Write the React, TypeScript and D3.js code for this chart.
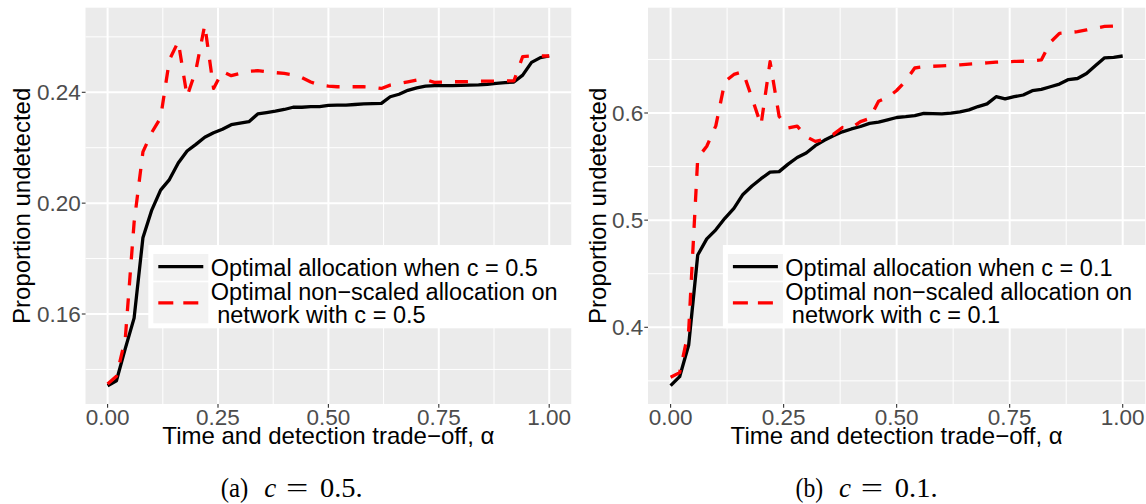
import React from "react";
import * as d3 from "d3";

// ---------- data ----------
const ALPHA = [
  0, 0.02, 0.04, 0.06, 0.08, 0.1, 0.12, 0.14, 0.16, 0.18, 0.2, 0.22, 0.24, 0.26, 0.28, 0.3, 0.32,
  0.34, 0.36, 0.38, 0.4, 0.42, 0.44, 0.46, 0.48, 0.5, 0.52, 0.54, 0.56, 0.58, 0.6, 0.62, 0.64, 0.66,
  0.68, 0.7, 0.72, 0.74, 0.76, 0.78, 0.8, 0.82, 0.84, 0.86, 0.88, 0.9, 0.92, 0.94, 0.96, 0.98, 1.0,
];

// panel (a): c = 0.5
const OPTIMAL_C05 = [
  0.1341, 0.1359, 0.1475, 0.1585, 0.1875, 0.1975, 0.2047, 0.2085, 0.2145, 0.2188, 0.2212, 0.2238,
  0.2254, 0.2267, 0.2283, 0.2289, 0.2294, 0.2322, 0.2327, 0.2332, 0.2338, 0.2346, 0.2346, 0.2348,
  0.2348, 0.2353, 0.2354, 0.2354, 0.2356, 0.2358, 0.2359, 0.236, 0.2384, 0.2393, 0.2407, 0.2416,
  0.2422, 0.2424, 0.2424, 0.2424, 0.2425, 0.2426, 0.2427, 0.2429, 0.2432, 0.2435, 0.2437, 0.2462,
  0.2508, 0.2525, 0.2531,
];
const NONSCALED_C05 = [
  0.1347, 0.1375, 0.151, 0.193, 0.2185, 0.2255, 0.2308, 0.2517, 0.2583, 0.2385, 0.248, 0.2643,
  0.2414, 0.2475, 0.246, 0.2468, 0.2476, 0.2478, 0.2474, 0.2471, 0.2468, 0.2463, 0.2453, 0.2437,
  0.2426, 0.2422, 0.242, 0.242, 0.242, 0.242, 0.2418, 0.2414, 0.2426, 0.2432, 0.2438, 0.2444,
  0.2446, 0.2436, 0.2437, 0.2438, 0.2438, 0.2439, 0.244, 0.244, 0.244, 0.2441, 0.2441, 0.2529,
  0.2531, 0.2531, 0.2531,
];

// panel (b): c = 0.1
const OPTIMAL_C01 = [
  0.3455, 0.3539, 0.3835, 0.4675, 0.4825, 0.491, 0.5017, 0.511, 0.524, 0.5318, 0.5387, 0.5448,
  0.5453, 0.5523, 0.5585, 0.5627, 0.5695, 0.5745, 0.5787, 0.5824, 0.5851, 0.5874, 0.5903, 0.5915,
  0.5936, 0.5958, 0.5966, 0.5976, 0.5997, 0.5994, 0.5991, 0.5999, 0.6011, 0.6029, 0.606, 0.6085,
  0.6152, 0.6131, 0.6152, 0.6168, 0.6208, 0.622, 0.6245, 0.627, 0.6312, 0.6322, 0.6368, 0.6443,
  0.6515, 0.6519, 0.6532,
];
const NONSCALED_C01 = [
  0.3534, 0.3577, 0.397, 0.558, 0.569, 0.588, 0.6292, 0.636, 0.6386, 0.614, 0.5888, 0.6479,
  0.597, 0.586, 0.5878, 0.578, 0.5735, 0.5754, 0.58, 0.5865, 0.586, 0.592, 0.5948, 0.611,
  0.6145, 0.621, 0.63, 0.642, 0.6432, 0.6436, 0.644, 0.6444, 0.645, 0.6457, 0.6462, 0.6468,
  0.6474, 0.6479, 0.6481, 0.6483, 0.6486, 0.6495, 0.666, 0.6743, 0.675, 0.6759, 0.6775, 0.6792,
  0.6808, 0.6812, 0.6812,
];

const X_TICKS = [0, 0.25, 0.5, 0.75, 1];
const X_TICK_LABELS = ["0.00", "0.25", "0.50", "0.75", "1.00"];
const X_MINOR = [0.125, 0.375, 0.625, 0.875];

const Y_TICKS_A = [0.16, 0.2, 0.24];
const Y_TICK_LABELS_A = ["0.16", "0.20", "0.24"];
const Y_MINOR_A = [0.14, 0.18, 0.22, 0.26];

const Y_TICKS_B = [0.4, 0.5, 0.6];
const Y_TICK_LABELS_B = ["0.4", "0.5", "0.6"];
const Y_MINOR_B = [0.35, 0.45, 0.55, 0.65];

const LEGEND_A = ["Optimal allocation when c = 0.5", "Optimal non\u2212scaled allocation on", " network with c = 0.5"];
const LEGEND_B = ["Optimal allocation when c = 0.1", "Optimal non\u2212scaled allocation on", " network with c = 0.1"];

const CAPTION_A = ["(a)", "c", "=", "0.5."];
const CAPTION_B = ["(b)", "c", "=", "0.1."];

const X_TITLE = "Time and detection trade\u2212off, \u03b1";
const Y_TITLE = "Proportion undetected";

// ---------- layout ----------
const W = 1146;
const H = 504;
const SANS = "'Liberation Sans', Arial, Helvetica, sans-serif";
const SERIF = "'Liberation Serif', 'DejaVu Serif', serif";

type PanelProps = {
  x0: number;
  x1: number;
  yTicks: number[];
  yTickLabels: string[];
  yMinor: number[];
  yRef: [number, number];
  yRefPx: [number, number];
  optimal: number[];
  nonscaled: number[];
  legend: string[];
  legendX: number;
  yTitleX: number;
  caption: string[];
  captionX: number;
};

const TOP = 7.7;
const BOTTOM = 404;

function Panel(p: PanelProps) {
  const x = d3.scaleLinear().domain([0, 1]).range([p.x0, p.x1]);
  const y = d3.scaleLinear().domain(p.yRef).range(p.yRefPx);
  const left = x(-0.05);
  const right = x(1.05);
  const line = d3
    .line<number>()
    .x((_, i) => x(ALPHA[i]))
    .y((v) => y(v));
  const cx = (p.x0 + p.x1) / 2;
  const lx = p.legendX;
  const c0 = p.captionX;
  return (
    <g>
      <rect x={left} y={TOP} width={right - left} height={BOTTOM - TOP} fill="#ebebeb" />
      {p.yMinor.map((t) => (
        <line key={"ym" + t} x1={left} x2={right} y1={y(t)} y2={y(t)} stroke="#fff" strokeWidth={1} />
      ))}
      {X_MINOR.map((t) => (
        <line key={"xm" + t} x1={x(t)} x2={x(t)} y1={TOP} y2={BOTTOM} stroke="#fff" strokeWidth={1} />
      ))}
      {p.yTicks.map((t) => (
        <line key={"yM" + t} x1={left} x2={right} y1={y(t)} y2={y(t)} stroke="#fff" strokeWidth={2} />
      ))}
      {X_TICKS.map((t) => (
        <line key={"xM" + t} x1={x(t)} x2={x(t)} y1={TOP} y2={BOTTOM} stroke="#fff" strokeWidth={2} />
      ))}
      <path d={line(p.optimal) || ""} fill="none" stroke="#000" strokeWidth={3.3} strokeLinejoin="round" />
      <path
        d={line(p.nonscaled) || ""}
        fill="none"
        stroke="#ff0000"
        strokeWidth={3.3}
        strokeLinejoin="round"
        strokeDasharray="13,13"
      />
      {X_TICKS.map((t, i) => (
        <g key={"xt" + t}>
          <line x1={x(t)} x2={x(t)} y1={BOTTOM} y2={BOTTOM + 3.7} stroke="#333" strokeWidth={1.1} />
          <text x={x(t)} y={424.5} textAnchor="middle" fontFamily={SANS} fontSize={22.5} fill="#4d4d4d">
            {X_TICK_LABELS[i]}
          </text>
        </g>
      ))}
      {p.yTicks.map((t, i) => (
        <g key={"yt" + t}>
          <line x1={left - 3.7} x2={left} y1={y(t)} y2={y(t)} stroke="#333" strokeWidth={1.1} />
          <text x={left - 4.8} y={y(t)} dy="0.36em" textAnchor="end" fontFamily={SANS} fontSize={22.5} fill="#4d4d4d">
            {p.yTickLabels[i]}
          </text>
        </g>
      ))}
      <text x={cx} y={443.5} textAnchor="middle" fontFamily={SANS} fontSize={24} fill="#000">
        {X_TITLE}
      </text>
      <text
        transform={`translate(${p.yTitleX},${(TOP + BOTTOM) / 2}) rotate(-90)`}
        textAnchor="middle"
        fontFamily={SANS}
        fontSize={24}
        fill="#000"
      >
        {Y_TITLE}
      </text>
      {/* legend */}
      <rect x={lx} y={245} width={440} height={83.3} fill="#fff" />
      <rect x={lx + 5} y={254} width={55} height={26.7} fill="#f2f2f2" />
      <rect x={lx + 5} y={282.3} width={55} height={41} fill="#f2f2f2" />
      <line x1={lx + 10} x2={lx + 55} y1={266.7} y2={266.7} stroke="#000" strokeWidth={3.3} />
      <line
        x1={lx + 10}
        x2={lx + 55}
        y1={302.8}
        y2={302.8}
        stroke="#ff0000"
        strokeWidth={3.3}
        strokeDasharray="15,10"
      />
      <text x={lx + 62.4} y={276} fontFamily={SANS} fontSize={23.5} fill="#000">
        {p.legend[0]}
      </text>
      <text x={lx + 62.4} y={299.5} fontFamily={SANS} fontSize={23.5} fill="#000">
        {p.legend[1]}
      </text>
      <text x={lx + 62.4} y={323} fontFamily={SANS} fontSize={23.5} fill="#000" style={{ whiteSpace: "pre" }}>
        {p.legend[2]}
      </text>
      {/* caption */}
      <g fontFamily={SERIF} fontSize={27} fill="#000">
        <text x={c0} y={496.7} textLength={27.6} lengthAdjust="spacingAndGlyphs">{p.caption[0]}</text>
        <text x={c0 + 43.5} y={496.7} fontStyle="italic">{p.caption[1]}</text>
        <text x={c0 + 65.3} y={496.7} textLength={22.3} lengthAdjust="spacingAndGlyphs">{p.caption[2]}</text>
        <text x={c0 + 99.3} y={496.7} textLength={42.7} lengthAdjust="spacingAndGlyphs">{p.caption[3]}</text>
      </g>
    </g>
  );
}

export default function App() {
  return (
    <svg
      width={W}
      height={H}
      viewBox={`0 0 ${W} ${H}`}
      style={{ position: "absolute", left: 0, top: 0, background: "#fff" }}
    >
      <rect x={0} y={0} width={W} height={H} fill="#fff" />
      <Panel
        x0={107.6}
        x1={549.2}
        yTicks={Y_TICKS_A}
        yTickLabels={Y_TICK_LABELS_A}
        yMinor={Y_MINOR_A}
        yRef={[0.16, 0.24]}
        yRefPx={[314, 92.3]}
        optimal={OPTIMAL_C05}
        nonscaled={NONSCALED_C05}
        legend={LEGEND_A}
        legendX={148.3}
        yTitleX={30}
        caption={CAPTION_A}
        captionX={220.7}
      />
      <Panel
        x0={670.6}
        x1={1122.7}
        yTicks={Y_TICKS_B}
        yTickLabels={Y_TICK_LABELS_B}
        yMinor={Y_MINOR_B}
        yRef={[0.4, 0.6]}
        yRefPx={[327.3, 113]}
        optimal={OPTIMAL_C01}
        nonscaled={NONSCALED_C01}
        legend={LEGEND_B}
        legendX={722.9}
        yTitleX={605.5}
        caption={CAPTION_B}
        captionX={795.5}
      />
    </svg>
  );
}
